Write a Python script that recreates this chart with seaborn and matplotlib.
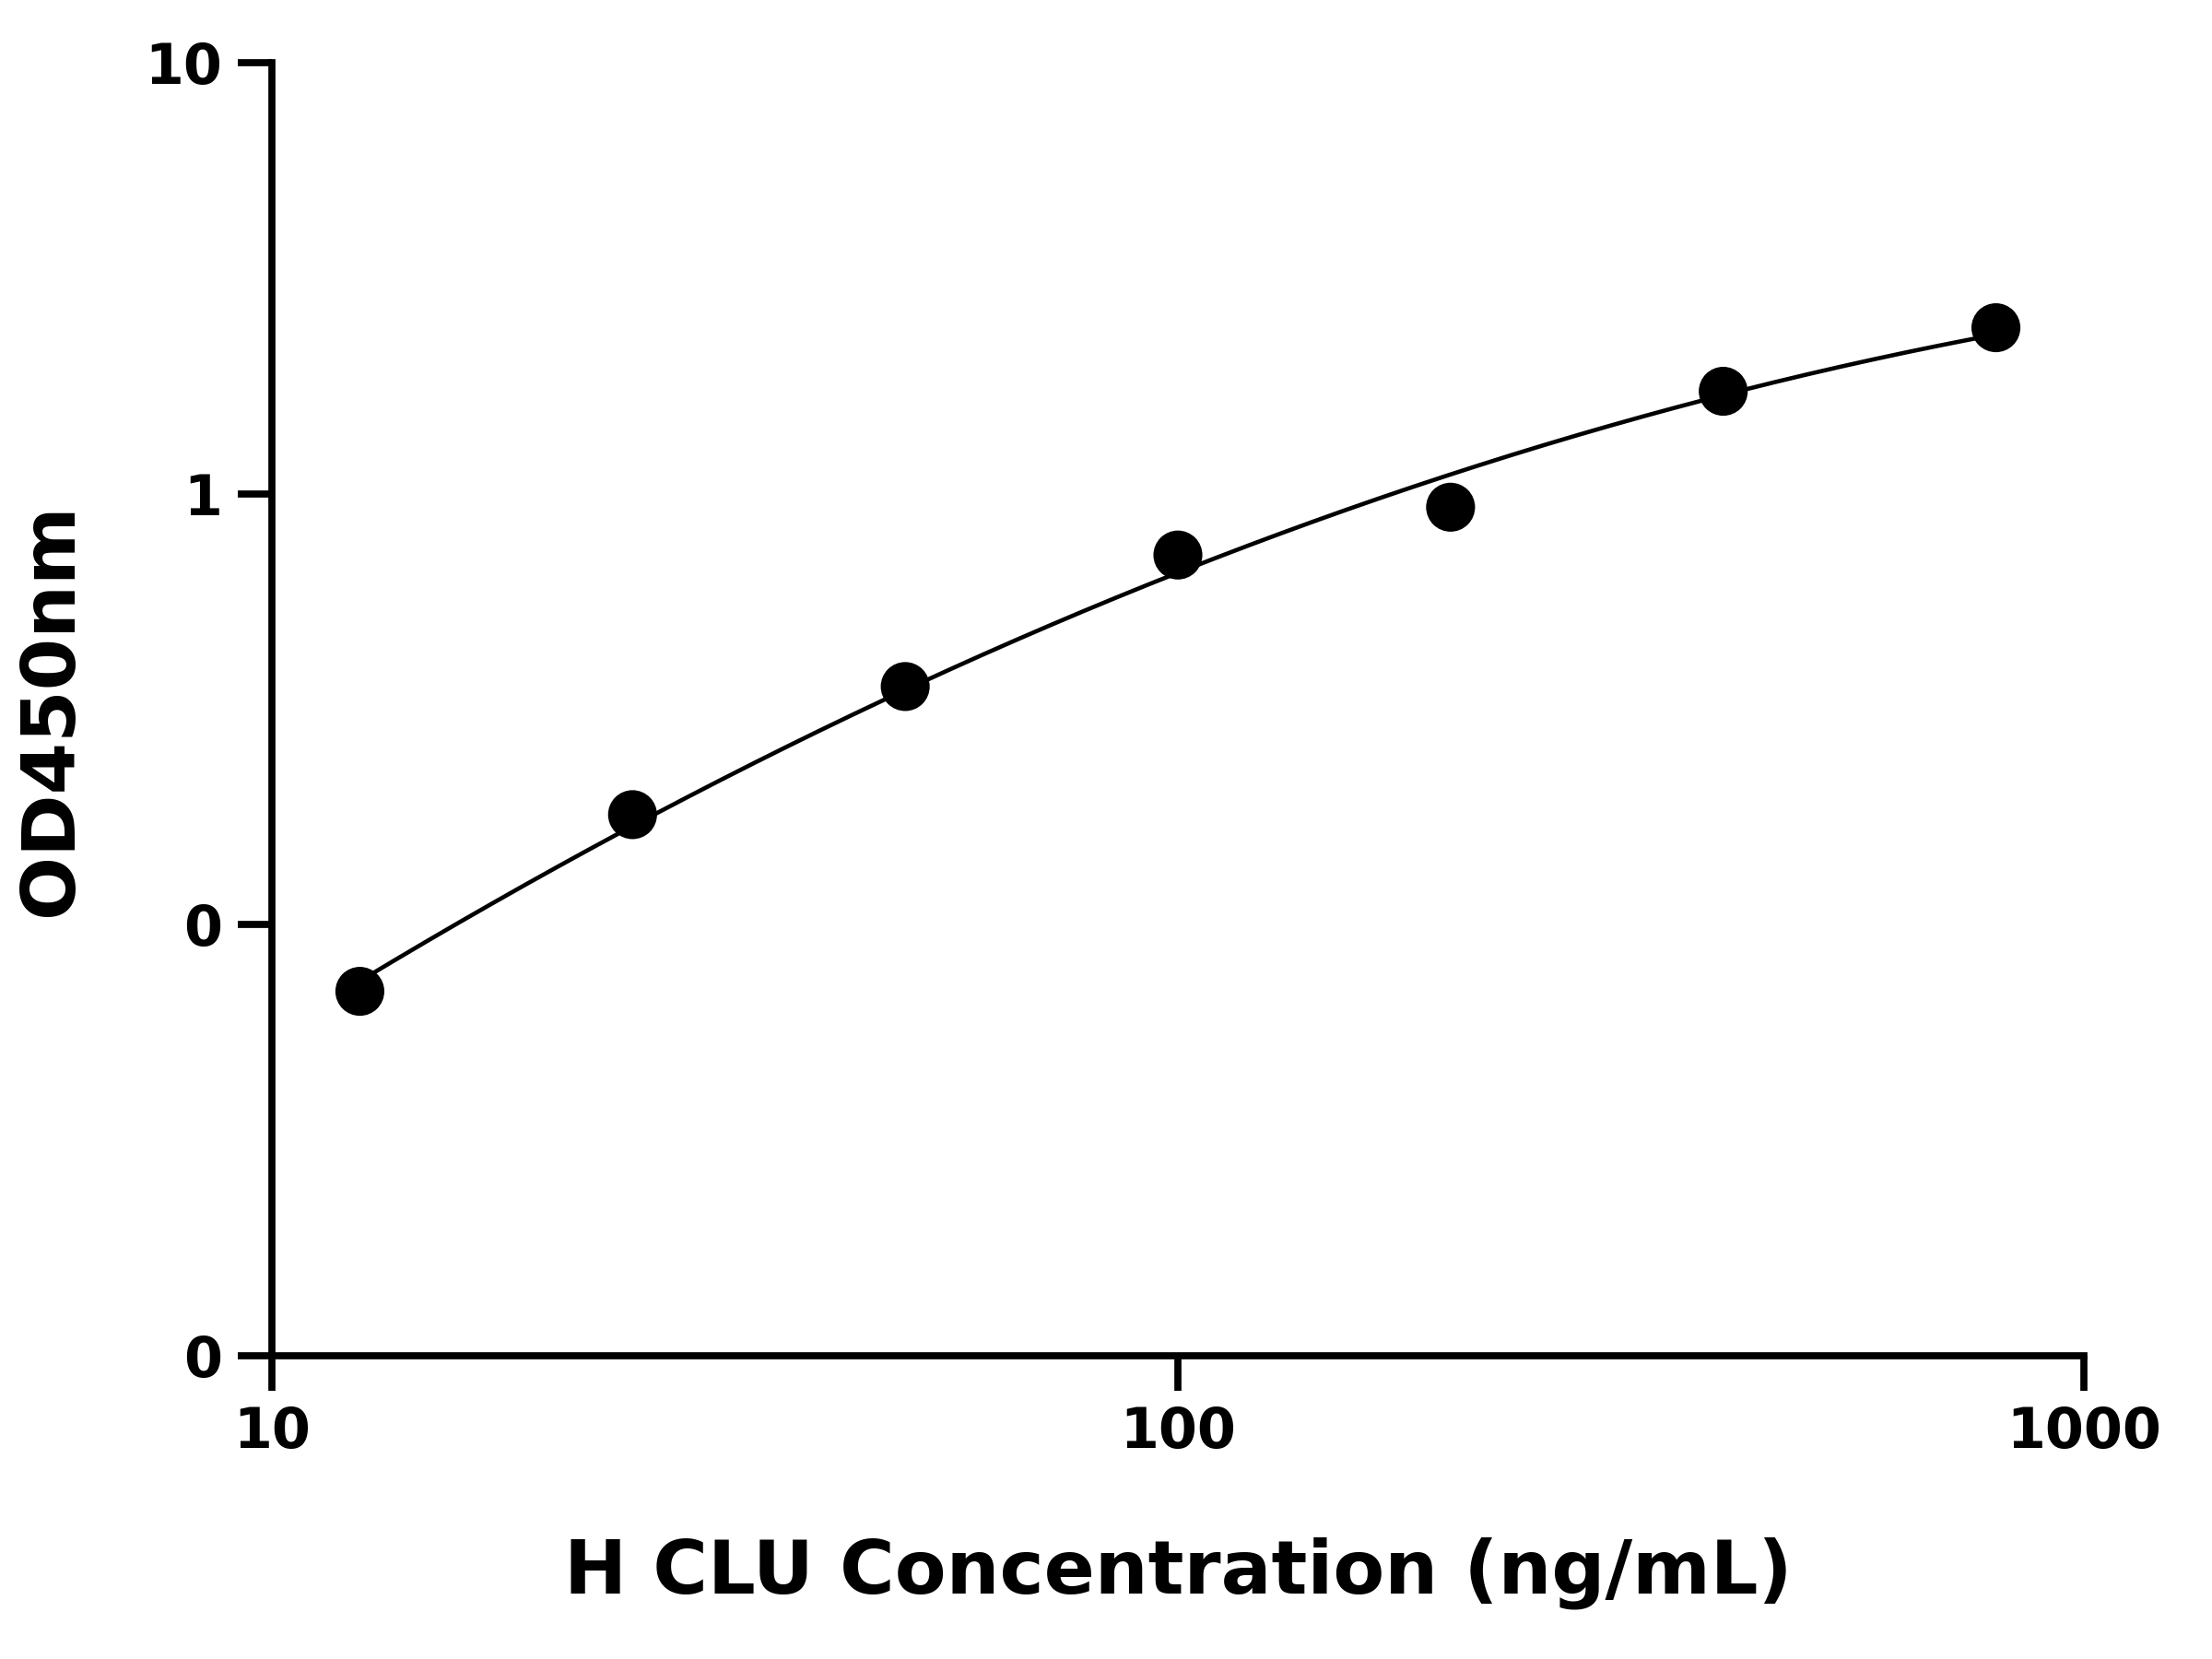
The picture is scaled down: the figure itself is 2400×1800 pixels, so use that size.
import numpy as np
import pandas as pd
import matplotlib
matplotlib.use("Agg")
import matplotlib.pyplot as plt
import seaborn as sns

conc = [12.5, 25, 50, 100, 200, 400, 800]
od = [0.070, 0.180, 0.357, 0.721, 0.931, 1.73, 2.43]
x_ticks = [10, 100, 1000]
x_labels = ["10", "100", "1000"]
y_ticks = [0.01, 0.1, 1, 10]
y_labels = ["0", "0", "1", "10"]

df = pd.DataFrame({"conc": conc, "od": od})

fig = plt.figure(figsize=(16, 12), dpi=150)
ax = fig.add_axes([0.123, 0.183, 0.819, 0.779])

coef = np.polyfit(np.log10(conc), np.log10(od), 2)
xf = np.logspace(np.log10(conc[0]), np.log10(conc[-1]), 200)
yf = 10 ** np.polyval(coef, np.log10(xf))
sns.lineplot(x=xf, y=yf, ax=ax, color="black", linewidth=2.2)
sns.scatterplot(data=df, x="conc", y="od", ax=ax, color="black", s=650, edgecolor="none", zorder=3)

ax.set_xscale("log")
ax.set_yscale("log")
ax.set_xlim(10, 1000)
ax.set_ylim(0.01, 10)
ax.set_xticks(x_ticks)
ax.set_xticklabels(x_labels)
ax.set_yticks(y_ticks)
ax.set_yticklabels(y_labels)
ax.minorticks_off()
for s in ["top", "right"]:
    ax.spines[s].set_visible(False)
for s in ["left", "bottom"]:
    ax.spines[s].set_linewidth(3.7)
ax.tick_params(width=3.7, length=18, direction="out", labelsize=29, pad=8)
for lab in ax.get_xticklabels() + ax.get_yticklabels():
    lab.set_fontweight("bold")
ax.set_xlabel("H CLU Concentration (ng/mL)", fontsize=39, fontweight="bold", labelpad=40)
ax.set_ylabel("OD450nm", fontsize=39, fontweight="bold", labelpad=30)

fig.savefig("out.png", dpi=150)
